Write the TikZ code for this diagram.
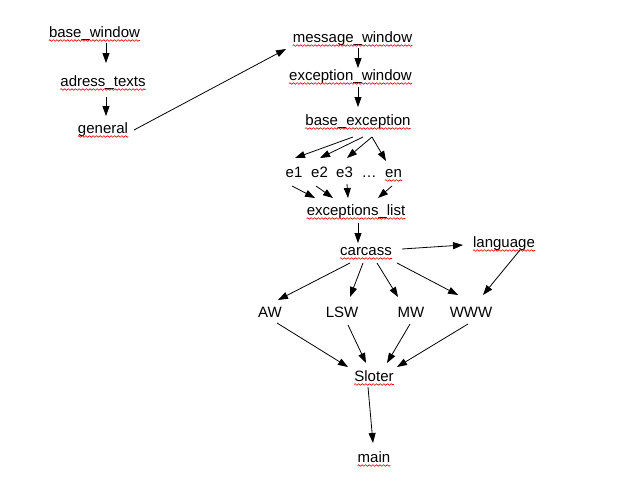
\documentclass[tikz,border=0pt]{standalone}
\usepackage{fontspec}
\setmainfont{Liberation Sans}
\usetikzlibrary{arrows.meta,calc,decorations.pathmorphing}
\begin{document}
\begin{tikzpicture}[x=1pt,y=-1pt,
  lbl/.style={anchor=base, inner sep=0pt, font=\fontsize{15pt}{18pt}\selectfont},
  arr/.style={-{Triangle[length=10pt,width=7pt]}, line width=0.8pt},
  squig/.style={draw=red!90!black, line width=0.6pt, decorate,
    decoration={zigzag, segment length=3.6pt, amplitude=0.8pt}}]
\fill[white] (0,0) rectangle (629,490);
\useasboundingbox (0,0) rectangle (629,490);
% nodes
\node[lbl] (bw)   at (94.5,37)  {base\_window};
\node[lbl] (at)   at (103,86)   {adress\_texts};
\node[lbl] (gen)  at (103,133)  {general};
\node[lbl] (mw)   at (352.5,42) {message\_window};
\node[lbl] (ew)   at (350.5,80) {exception\_window};
\node[lbl] (be)   at (358,125)  {base\_exception};
\node[lbl] (e1)   at (294,177)  {e1};
\node[lbl] (e2)   at (319.5,177){e2};
\node[lbl] (e3)   at (344.5,177){e3};
\node[lbl] (dots) at (369,177)  {…};
\node[lbl] (en)   at (393.5,177){en};
\node[lbl] (el)   at (356,215)  {exceptions\_list};
\node[lbl] (car)  at (366,255)  {carcass};
\node[lbl] (lang) at (504,247)  {language};
\node[lbl] (aw)   at (270,317)  {AW};
\node[lbl] (lsw)  at (342,317)  {LSW};
\node[lbl] (mwn)  at (411,317)  {MW};
\node[lbl] (www)  at (471,317)  {WWW};
\node[lbl] (sl)   at (374,381)  {Sloter};
\node[lbl] (main) at (374,462)  {main};
% spell-check underlines
\foreach \n in {bw,at,gen,mw,ew,be,en,el,car,lang,sl,main}
  \draw[squig] ($(\n.base west)+(0,3.5)$) -- ($(\n.base east)+(0,3.5)$);
% connectors
\draw[arr] ($(bw.base)+(11.5,6)$) -- ($(at.base)+(3,-23)$);
\draw[arr] ($(at.base)+(3,11)$) -- ($(gen.base)+(3,-17)$);
\draw[arr] ($(gen.base)+(31,-3)$) -- ($(mw.base)+(-66.5,7)$);
\draw[arr] ($(mw.base)+(5.5,6)$) -- ($(ew.base)+(7.5,-12)$);
\draw[arr] ($(ew.base)+(7.5,7)$) -- ($(be.base)+(0,-18)$);
\draw[arr] ($(be.base)+(-5,12)$) -- ($(e1.base)+(1,-19)$);
\draw[arr] ($(be.base)+(5,12)$) -- ($(e2.base)+(0.5,-19)$);
\draw[arr] ($(be.base)+(14,12)$) -- ($(e3.base)+(2.5,-19)$);
\draw[arr] ($(be.base)+(14,12)$) -- ($(en.base)+(-7.5,-16)$);
\draw[arr] ($(e1.base)+(-2,9)$) -- ($(el.base)+(-41,-17)$);
\draw[arr] ($(e2.base)+(-3.5,9)$) -- ($(el.base)+(-23,-17)$);
\draw[arr] ($(e3.base)+(2.5,7)$) -- ($(el.base)+(-8,-17)$);
\draw[arr] ($(en.base)+(-1.5,9)$) -- ($(el.base)+(22,-17)$);
\draw[arr] ($(el.base)+(2,8)$) -- ($(car.base)+(-8,-12)$);
\draw[arr] ($(car.base)+(36,-6)$) -- ($(lang.base)+(-41,-2)$);
\draw[arr] ($(car.base)+(-16,8)$) -- ($(aw.base)+(8,-17)$);
\draw[arr] ($(car.base)+(-3,8)$) -- ($(lsw.base)+(8,-20)$);
\draw[arr] ($(car.base)+(11,8)$) -- ($(mwn.base)+(-13,-20)$);
\draw[arr] ($(car.base)+(31,8)$) -- ($(www.base)+(-13,-22)$);
\draw[arr] ($(lang.base)+(16,3)$) -- ($(www.base)+(12,-22)$);
\draw[arr] ($(aw.base)+(7,6)$) -- ($(sl.base)+(-26,-14)$);
\draw[arr] ($(lsw.base)+(6,8)$) -- ($(sl.base)+(-8,-18)$);
\draw[arr] ($(mwn.base)+(-1,7)$) -- ($(sl.base)+(13,-18)$);
\draw[arr] ($(www.base)+(-3,7)$) -- ($(sl.base)+(23,-14)$);
\draw[arr] ($(sl.base)+(-6,6)$) -- ($(main.base)+(-1,-19)$);
\end{tikzpicture}
\end{document}
